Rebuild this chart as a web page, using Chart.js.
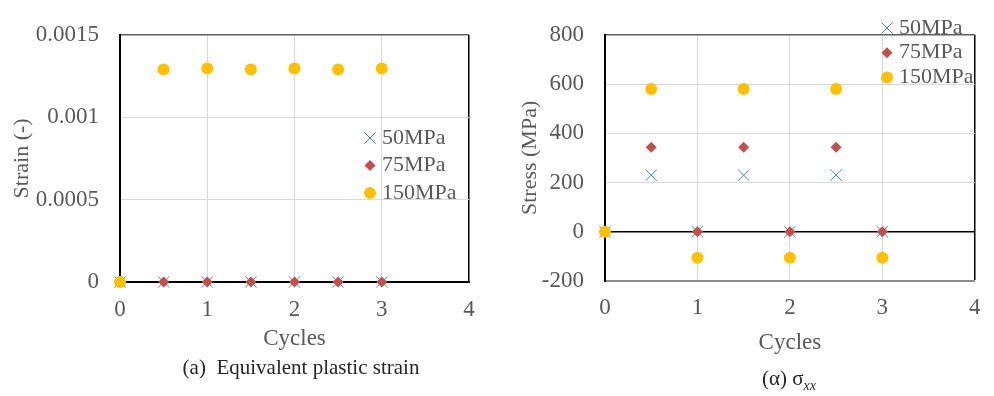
<!DOCTYPE html>
<html>
<head>
<meta charset="utf-8">
<script src="https://cdn.jsdelivr.net/npm/chart.js@4"></script>
<style>
  html, body { margin: 0; padding: 0; background: #fff; }
  .panel { position: absolute; top: 0; width: 497px; height: 396px; }
  #left { left: 0; }
  #right { left: 497px; }
</style>
</head>
<body>
<div class="panel" id="left"><canvas id="strainChart" width="497" height="396"></canvas></div>
<div class="panel" id="right"><canvas id="stressChart" width="497" height="396"></canvas></div>
<script>
// cycle positions shared by both panels
const cycles = [0, 0.5, 1, 1.5, 2, 2.5, 3];

// equivalent plastic strain
const strain50 = [0, 0, 0, 0, 0, 0, 0];
const strain75 = [0, 0, 0, 0, 0, 0, 0];
const strain150 = [0, 0.00129, 0.001295, 0.00129, 0.001295, 0.00129, 0.001295];

// sigma_xx (MPa)
const stress50 = [0, 230, 0, 230, 0, 230, 0];
const stress75 = [0, 343, 0, 343, 0, 343, 0];
const stress150 = [0, 580, -106, 580, -106, 580, -106];

const strainTickLabels = ["0", "0.0005", "0.001", "0.0015"];
const stressTickLabels = ["-200", "0", "200", "400", "600", "800"];
const cycleTickLabels = ["0", "1", "2", "3", "4"];
const seriesLabels = ["50MPa", "75MPa", "150MPa"];

const SERIF = "'Liberation Serif', 'Times New Roman', serif";
const TEXT_GRAY = "#595959";
const GRID_LIGHT = "#d9d9d9";

const BLUE = "#4f81bd";
const RED = "#c0504d";
const YELLOW = "#ffc000";

/**
 * Legend drawn inside the plot area, one row per dataset
 */
const insideLegend = {
  id: "insideLegend",
  afterDatasetsDraw(chart, args, opts) {
    const { ctx } = chart;
    ctx.save();
    ctx.font = opts.font;
    ctx.textBaseline = "middle";
    ctx.textAlign = "left";
    chart.data.datasets.forEach((ds, i) => {
      const y = opts.y + i * opts.spacing;
      ctx.fillStyle = ds.backgroundColor;
      ctx.strokeStyle = ds.borderColor;
      ctx.lineWidth = ds.borderWidth;
      Chart.helpers.drawPoint(
        ctx,
        {
          pointStyle: ds.pointStyle,
          radius: ds.pointRadius,
          borderWidth: ds.borderWidth,
          rotation: 0,
        },
        opts.x,
        y
      );
      ctx.fillStyle = opts.color;
      ctx.fillText(ds.label, opts.x + opts.gap, y);
    });
    ctx.restore();
  },
};

/**
 * Caption under the panel, made of text runs so a subscript can be used
 */
const caption = {
  id: "caption",
  afterDraw(chart, args, opts) {
    const { ctx } = chart;
    ctx.save();
    ctx.textBaseline = "alphabetic";
    ctx.textAlign = "left";
    ctx.fillStyle = opts.color;
    let total = 0;
    opts.runs.forEach((r) => {
      ctx.font = r.font;
      total += ctx.measureText(r.text).width;
    });
    let x = opts.x - total / 2;
    opts.runs.forEach((r) => {
      ctx.font = r.font;
      ctx.fillText(r.text, x, opts.y + (r.dy || 0));
      x += ctx.measureText(r.text).width;
    });
    ctx.restore();
  },
};

const toPoints = (values) => cycles.map((x, i) => ({ x, y: values[i] }));

// points sit on the axes, so they must not be clipped to the chart area
const createDatasets = (v50, v75, v150) => [
  {
    label: seriesLabels[0],
    data: toPoints(v50),
    pointStyle: "crossRot",
    pointRadius: 8,
    borderColor: BLUE,
    backgroundColor: BLUE,
    borderWidth: 1,
    clip: false,
    order: 2,
  },
  {
    label: seriesLabels[1],
    data: toPoints(v75),
    pointStyle: "rectRot",
    pointRadius: 5.5,
    borderColor: RED,
    backgroundColor: RED,
    borderWidth: 0,
    clip: false,
    order: 1,
  },
  {
    label: seriesLabels[2],
    data: toPoints(v150),
    pointStyle: "circle",
    pointRadius: 6,
    borderColor: YELLOW,
    backgroundColor: YELLOW,
    borderWidth: 0,
    clip: false,
    order: 0,
  },
];

const createXScale = (cfg) => ({
  type: "linear",
  min: 0,
  max: 4,
  afterFit: (scale) => {
    scale.height = cfg.height;
  },
  afterBuildTicks: (scale) => {
    scale.ticks = cycleTickLabels.map((t) => ({ value: Number(t) }));
  },
  ticks: {
    padding: cfg.tickPadding,
    color: TEXT_GRAY,
    font: { family: SERIF, size: 23 },
    callback: (v, i) => cycleTickLabels[i],
  },
  grid: {
    drawTicks: false,
    color: (c) => (c.tick && c.tick.value === 4 ? "#000" : GRID_LIGHT),
    lineWidth: (c) => (c.tick && c.tick.value === 4 ? 1.5 : 1),
  },
  border: { color: cfg.borderColor, width: cfg.borderWidth },
  title: {
    display: true,
    text: "Cycles",
    color: TEXT_GRAY,
    font: { family: SERIF, size: 23 },
    padding: { top: 0, bottom: cfg.titlePadding },
  },
});

const createYScale = (cfg) => ({
  type: "linear",
  min: cfg.min,
  max: cfg.max,
  afterFit: (scale) => {
    scale.width = cfg.width;
  },
  afterBuildTicks: (scale) => {
    scale.ticks = cfg.labels.map((t) => ({ value: Number(t) }));
  },
  ticks: {
    padding: 21,
    color: TEXT_GRAY,
    font: { family: SERIF, size: 23 },
    callback: (v, i) => cfg.labels[i],
  },
  grid: {
    drawTicks: false,
    color: (c) => {
      if (!c.tick) return GRID_LIGHT;
      if (c.tick.value === 0) return "#000";
      if (c.tick.value === cfg.max) return "#606060";
      if (c.tick.value === cfg.min) return "#8c8c8c";
      return GRID_LIGHT;
    },
    lineWidth: (c) =>
      c.tick && (c.tick.value === 0 || c.tick.value === cfg.max) ? 1.5 : 1,
  },
  border: { color: "#000", width: 2 },
  title: {
    display: true,
    text: cfg.title,
    color: TEXT_GRAY,
    font: { family: SERIF, size: 22 },
    padding: { top: cfg.titlePadding, bottom: 0 },
  },
});

const baseOptions = () => ({
  responsive: false,
  animation: false,
  events: [],
  plugins: {
    legend: { display: false },
    tooltip: { enabled: false },
  },
});

document.addEventListener("DOMContentLoaded", () => {
  const strainOptions = baseOptions();
  strainOptions.layout = { padding: { left: 0, top: 21, right: 28, bottom: 0 } };
  strainOptions.scales = {
    x: createXScale({
      height: 114,
      tickPadding: 14.5,
      titlePadding: 43.5,
      borderColor: "#000",
      borderWidth: 2,
    }),
    y: createYScale({
      min: 0,
      max: 0.0015,
      width: 120,
      labels: strainTickLabels,
      title: "Strain (-)",
      titlePadding: 9,
    }),
  };
  strainOptions.plugins.insideLegend = {
    x: 370,
    y: 138,
    spacing: 27.5,
    gap: 12,
    font: `22px ${SERIF}`,
    color: TEXT_GRAY,
  };
  strainOptions.plugins.caption = {
    x: 301,
    y: 374,
    color: "#262626",
    runs: [{ text: "(a)  Equivalent plastic strain", font: `21px ${SERIF}` }],
  };

  new Chart(document.getElementById("strainChart"), {
    type: "scatter",
    data: { datasets: createDatasets(strain50, strain75, strain150) },
    options: strainOptions,
    plugins: [insideLegend, caption],
  });

  const stressOptions = baseOptions();
  stressOptions.layout = { padding: { left: 0, top: 14, right: 15, bottom: 0 } };
  stressOptions.scales = {
    x: createXScale({
      height: 115,
      tickPadding: 13.5,
      titlePadding: 39.5,
      borderColor: "#8c8c8c",
      borderWidth: 1.5,
    }),
    y: createYScale({
      min: -200,
      max: 800,
      width: 108,
      labels: stressTickLabels,
      title: "Stress (MPa)",
      titlePadding: 20.5,
    }),
  };
  stressOptions.plugins.insideLegend = {
    x: 390,
    y: 28,
    spacing: 24.7,
    gap: 12,
    font: `22px ${SERIF}`,
    color: TEXT_GRAY,
  };
  stressOptions.plugins.caption = {
    x: 292,
    y: 385,
    color: "#262626",
    runs: [
      { text: "(α) σ", font: `21px ${SERIF}` },
      { text: "xx", font: `italic 14px ${SERIF}`, dy: 5 },
    ],
  };

  new Chart(document.getElementById("stressChart"), {
    type: "scatter",
    data: { datasets: createDatasets(stress50, stress75, stress150) },
    options: stressOptions,
    plugins: [insideLegend, caption],
  });
});
</script>
</body>
</html>
